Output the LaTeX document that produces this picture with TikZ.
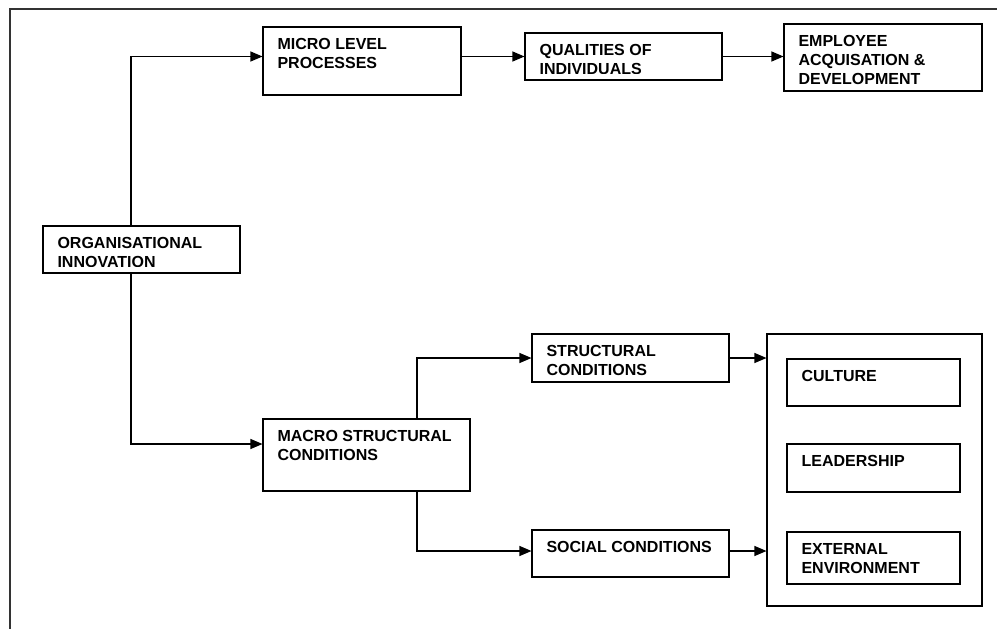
\documentclass[tikz,border=0pt]{standalone}
\usepackage{fontspec}
\setmainfont{Liberation Sans}
\usetikzlibrary{arrows.meta}

\tikzset{
	box/.style={draw, rectangle, line width=1.1pt, inner sep=0pt},
	txt/.style={anchor=north west, inner sep=0pt, align=left, minimum width=0pt, minimum height=0pt,
		font=\fontsize{16}{19}\selectfont\bfseries},
	boxtext/.style={path picture={
		\node[txt] at ([shift={(14pt,-11pt)}]path picture bounding box.north west) {#1};}},
	cuttext/.style={path picture={
		\clip (path picture bounding box.north west) rectangle ([yshift=6.4pt]path picture bounding box.south east);
		\node[txt] at ([shift={(14pt,-11pt)}]path picture bounding box.north west) {#1};}},
	arr/.style={line width=1.1pt, -{Triangle[length=12pt,width=10pt]}},
	frame/.style={line width=2pt, black!80}
}

\begin{document}
\begin{tikzpicture}[x=1pt, y=-1pt]
	\useasboundingbox (0,0) rectangle (997,629);

	%% Rahmen
	\draw[frame] (10,629) -- (10,9) -- (997,9);

	%% Mikroebene
	\node[box, minimum width=198pt, minimum height=68pt, boxtext={MICRO LEVEL\\PROCESSES}] (micro) at (362,61) {};
	\node[box, minimum width=197pt, minimum height=47pt, cuttext={QUALITIES OF\\INDIVIDUALS}] (qual) at (623.5,56.5) {};
	\node[box, minimum width=198pt, minimum height=67pt, boxtext={EMPLOYEE\\ACQUISATION \&\\DEVELOPMENT}] (emp) at (883,57.5) {};

	\node[box, minimum width=197pt, minimum height=47pt, cuttext={ORGANISATIONAL\\INNOVATION}] (org) at (141.5,249.5) {};

	%% Makroebene
	\node[box, minimum width=207pt, minimum height=72pt, boxtext={MACRO STRUCTURAL\\CONDITIONS}] (macro) at (366.5,455) {};
	\node[box, minimum width=197pt, minimum height=48pt, cuttext={STRUCTURAL\\CONDITIONS}] (struct) at (630.5,358) {};
	\node[box, minimum width=197pt, minimum height=47pt, boxtext={SOCIAL CONDITIONS}] (social) at (630.5,553.5) {};

	\node[box, minimum width=215pt, minimum height=272pt] (factors) at (874.5,470) {};
	\node[box, minimum width=173pt, minimum height=47pt, boxtext={CULTURE}] (culture) at (873.5,382.5) {};
	\node[box, minimum width=173pt, minimum height=48pt, boxtext={LEADERSHIP}] (lead) at (873.5,468) {};
	\node[box, minimum width=173pt, minimum height=52pt, boxtext={EXTERNAL\\ENVIRONMENT}] (extenv) at (873.5,558) {};

	%%%%%%%%%%%%%%%%

	%% Verbindungen
	\draw[arr] ([xshift=-10.5pt]org.north) |- (micro.west |- qual.west);
	\draw[arr] (micro.east |- qual.west) -- (qual.west);
	\draw[arr] (qual.east) -- (emp.west |- qual.east);
	\draw[arr] ([xshift=-10.5pt]org.south) |- ([yshift=11pt]macro.west);

	\draw[arr] ([xshift=50.5pt]macro.north) |- (struct.west);
	\draw[arr] ([xshift=50.5pt]macro.south) |- ([yshift=2.5pt]social.west);
	\draw[arr] (struct.east) -- (struct.east -| factors.west);
	\draw[arr] ([yshift=2.5pt]social.east) -- ([yshift=2.5pt]social.east -| factors.west);
\end{tikzpicture}
\end{document}
